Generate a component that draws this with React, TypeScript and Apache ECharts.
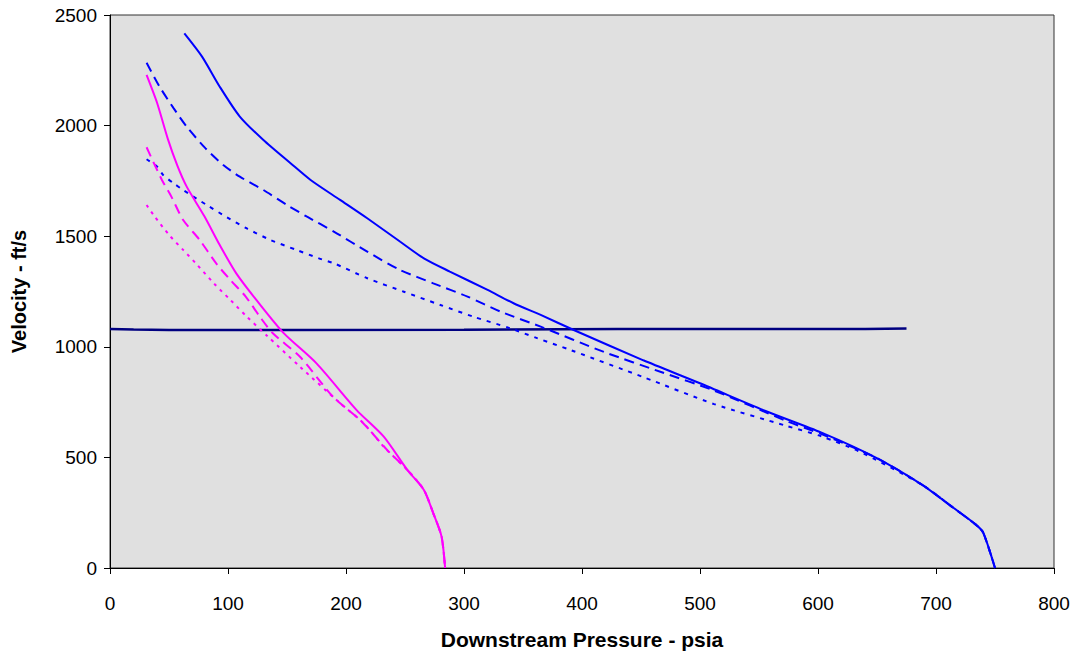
import React, { useEffect, useRef } from "react";
import * as echarts from "echarts";

// Downstream pressure (psia) vs velocity (ft/s)
const blueSolid: [number, number][] = [
  [63, 2417], [78, 2312], [93, 2176], [110, 2041], [130, 1935], [153, 1830],
  [170, 1754], [195, 1664], [218, 1581], [246, 1475], [266, 1400], [288, 1340],
  [320, 1257], [342, 1197], [365, 1144], [393, 1076], [452, 939], [500, 835],
  [555, 711], [603, 612], [649, 499], [688, 377], [715, 271], [734, 195],
  [740, 160], [750, 0],
];
const blueDashed: [number, number][] = [
  [31, 2284], [42, 2176], [54, 2078], [65, 1995], [81, 1897], [96, 1822],
  [110, 1769], [130, 1709], [150, 1641], [167, 1588], [190, 1520], [218, 1430],
  [246, 1347], [274, 1287], [303, 1227], [331, 1159], [365, 1091], [419, 976],
  [467, 886], [512, 802], [573, 665], [603, 605], [649, 499], [688, 377],
  [715, 271], [734, 195], [740, 160], [750, 0],
];
const blueDotted: [number, number][] = [
  [31, 1848], [40, 1814], [45, 1777], [54, 1739], [62, 1709], [82, 1641],
  [99, 1586], [116, 1535], [136, 1483], [158, 1438], [177, 1400], [190, 1377],
  [218, 1310], [249, 1249], [280, 1189], [308, 1136], [339, 1084], [362, 1039],
  [391, 984], [452, 863], [512, 741], [573, 643], [603, 595], [634, 529],
  [688, 377], [715, 271], [734, 195], [740, 160], [750, 0],
];
const magentaSolid: [number, number][] = [
  [31, 2229], [40, 2101], [49, 1940], [57, 1820], [65, 1724], [80, 1590],
  [93, 1460], [107, 1332], [124, 1212], [147, 1063], [175, 925], [209, 714],
  [232, 594], [252, 443], [266, 353], [274, 247], [281, 142], [284, 0],
];
const magentaDashed: [number, number][] = [
  [31, 1902], [44, 1754], [52, 1679], [62, 1573], [76, 1483], [90, 1377],
  [102, 1302], [115, 1227], [127, 1136], [138, 1061], [161, 955], [189, 774],
  [212, 669], [235, 533], [252, 443], [266, 353], [274, 247], [281, 142],
  [284, 0],
];
const magentaDotted: [number, number][] = [
  [31, 1641], [38, 1588], [50, 1506], [62, 1438], [74, 1370], [88, 1287],
  [102, 1212], [116, 1136], [133, 1050], [161, 910], [195, 745], [215, 654],
  [232, 548], [252, 443], [266, 353], [274, 247], [281, 142], [284, 0],
];
const sonicLine: [number, number][] = [
  [0, 1081], [20, 1078], [50, 1076], [150, 1076], [300, 1077], [430, 1080],
  [550, 1080], [640, 1080], [675, 1083],
];

const xTitle = "Downstream Pressure - psia";
const yTitle = "Velocity - ft/s";

export default function App() {
  const ref = useRef<HTMLDivElement>(null);
  useEffect(() => {
    if (!ref.current) return;
    const chart = echarts.init(ref.current, null, { renderer: "svg" });
    const font = "'Liberation Sans', Arial, sans-serif";
    const mk = (data: [number, number][], color: string, type: any, width = 2, smooth: number | boolean = 0.25) => ({
      type: "line",
      data,
      showSymbol: false,
      symbol: "none",
      smooth,
      lineStyle: { color, width, type },
      z: 3,
    });
    chart.setOption({
      animation: false,
      backgroundColor: "#ffffff",
      grid: {
        left: 110,
        right: 23,
        top: 15,
        bottom: 88,
        show: true,
        backgroundColor: "#E0E0E0",
        borderColor: "#333",
        borderWidth: 1,
      },
      xAxis: {
        type: "value",
        min: 0,
        max: 800,
        interval: 100,
        name: xTitle,
        nameLocation: "middle",
        nameGap: 61,
        nameTextStyle: { fontFamily: font, fontSize: 21, fontWeight: "bold", color: "#000" },
        axisLine: { lineStyle: { color: "#000", width: 1 } },
        axisTick: { length: 6, lineStyle: { color: "#000" } },
        axisLabel: { fontFamily: font, fontSize: 19, color: "#000", margin: 26 },
        splitLine: { show: false },
      },
      yAxis: {
        type: "value",
        min: 0,
        max: 2500,
        interval: 500,
        name: yTitle,
        nameLocation: "middle",
        nameGap: 81,
        nameTextStyle: { fontFamily: font, fontSize: 20, fontWeight: "bold", color: "#000" },
        axisLine: { show: true, lineStyle: { color: "#000", width: 1 } },
        axisTick: { show: true, length: 6, lineStyle: { color: "#000" } },
        axisLabel: {
          fontFamily: font,
          fontSize: 19,
          color: "#000",
          margin: 13,
          formatter: (v: number) => String(v),
        },
        splitLine: { show: false },
      },
      series: [
        mk(sonicLine, "#000080", "solid", 2.5, false),
        mk(blueSolid, "#0000FF", "solid"),
        mk(blueDashed, "#0000FF", [10, 6]),
        mk(blueDotted, "#0000FF", [4, 6]),
        mk(magentaSolid, "#FF00FF", "solid"),
        mk(magentaDashed, "#FF00FF", [10, 6]),
        mk(magentaDotted, "#FF00FF", [3, 5]),
      ],
    });
    return () => chart.dispose();
  }, []);
  return (
    <div
      ref={ref}
      style={{ position: "fixed", left: 0, top: 0, width: 1077, height: 656 }}
    />
  );
}
